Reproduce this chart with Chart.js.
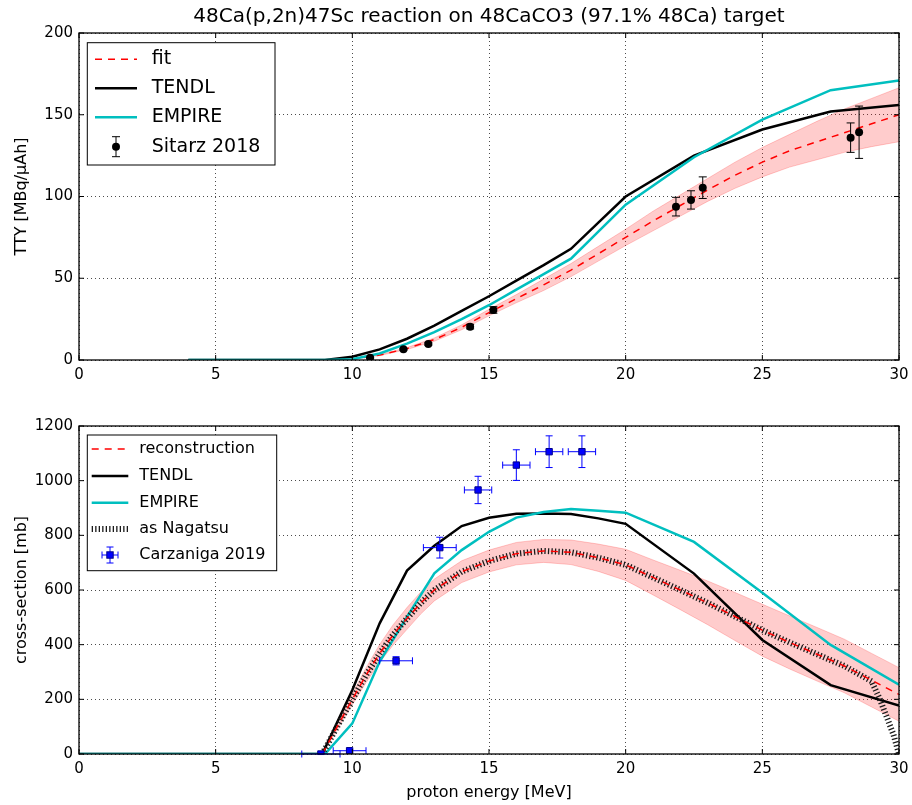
<!DOCTYPE html>
<html>
<head>
<meta charset="utf-8">
<script src="https://cdn.jsdelivr.net/npm/chart.js@4.4.0/dist/chart.umd.min.js"></script>
<style>
  body { margin: 0; background: #fff; }
  canvas { position: absolute; left: 0; }
  #top { top: 0; }
  #bottom { top: 400px; }
</style>
</head>
<body>
<canvas id="top" width="912" height="400"></canvas>
<canvas id="bottom" width="912" height="405"></canvas>
<script>
const FONT = "'DejaVu Sans', sans-serif";

/* ================= DATA: top panel (thick target yield) ================= */
const energyTicks = [0, 5, 10, 15, 20, 25, 30];
const ttyTicks = [0, 50, 100, 150, 200];

const modelE = [4, 5, 6, 7, 8, 9, 10, 11, 12, 13, 14, 15, 16, 17, 18, 19, 20, 22.5, 25, 27.5, 30];
const tendlTTY = [0, 0, 0, 0, 0, 0, 2, 6.5, 13, 21, 30, 39, 48.5, 58, 68, 84, 100, 125, 141, 152, 156];
const empireTTY = [0, 0, 0, 0, 0, 0, 0.5, 4, 10, 17, 25, 33.5, 43, 52.5, 62, 78.5, 95, 124, 147, 165, 171];

const fitE = [9, 10, 11, 12, 13, 14, 15, 16, 17, 18, 19, 20, 21, 22, 23, 24, 25, 26, 27, 28, 29, 30];
const fitTTY = [0, 0.5, 3, 7, 12.5, 20, 29, 37.5, 46, 55, 65, 75, 85, 94.5, 104, 113, 121, 128, 133.5, 139, 144.5, 150];
const fitTTYhi = [0, 0.6, 3.3, 7.6, 13.5, 21.5, 31, 40, 49.5, 59, 69.5, 80, 91, 101, 111, 121, 130, 138, 146, 153.5, 160, 166.5];
const fitTTYlo = [0, 0.4, 2.7, 6.4, 11.5, 18.5, 27, 35, 42.5, 51, 60.5, 70, 79, 88, 97, 105, 112, 118, 122.5, 127, 130.5, 133.5];

const sitarzE = [10.65, 11.87, 12.78, 14.31, 15.16, 21.84, 22.39, 22.82, 28.23, 28.54];
const sitarzTTY = [1.4, 6.5, 9.8, 20.4, 30.6, 93.8, 97.9, 105.4, 136, 139.3];
const sitarzErr = [0.3, 0.5, 0.7, 1.4, 2, 5.7, 5.6, 6.6, 9, 16];

/* ================= DATA: bottom panel (cross-section) ================= */
const xsTicks = [0, 200, 400, 600, 800, 1000, 1200];

const tendlXsE = [0, 8.9, 10, 11, 12, 13, 14, 15, 16, 17, 18, 19, 20, 22.5, 25, 27.5, 30];
const tendlXs = [0, 0, 234, 478, 671, 762, 834, 864, 879, 880, 878, 862, 842, 660, 417, 252, 177];
const empireXsE = [0, 9, 10, 11, 12, 13, 14, 15, 16, 17, 18, 19, 20, 22.5, 25, 27.5, 30];
const empireXs = [0, 0, 112, 338, 502, 661, 746, 813, 865, 885, 896, 890, 883, 776, 590, 399, 254];

const reconE = [8.9, 9.5, 10, 10.5, 11, 11.5, 12, 12.5, 13, 14, 15, 16, 17, 18, 19, 20, 21, 22, 23, 24, 25, 26, 27, 28, 29, 30];
const reconXs = [0, 110, 200, 288, 368, 437, 496, 552, 600, 667, 706, 733, 743, 738, 718, 692, 646, 600, 553, 503, 453, 408, 365, 322, 270, 218];
const reconHi = [0, 122, 220, 315, 401, 474, 536, 592, 640, 707, 746, 774, 785, 783, 768, 749, 710, 672, 633, 591, 548, 505, 463, 420, 368, 316];
const reconLo = [0, 98, 180, 261, 335, 400, 456, 512, 560, 627, 666, 692, 701, 693, 668, 635, 582, 528, 473, 415, 358, 311, 267, 224, 172, 120];

const nagatsuE = [8.9, 9.5, 10, 10.5, 11, 11.5, 12, 12.5, 13, 14, 15, 16, 17, 18, 19, 20, 21, 22, 23, 24, 25, 26, 27, 28, 29, 29.3, 29.55, 29.8, 30];
const nagatsuXs = [0, 110, 200, 288, 368, 437, 496, 552, 600, 667, 706, 733, 743, 738, 718, 692, 646, 600, 553, 503, 453, 408, 365, 322, 266, 200, 136, 70, 0];

const carzE = [8.85, 9.9, 11.6, 13.2, 14.6, 16.0, 17.2, 18.4];
const carzXs = [0, 12, 341, 755, 966, 1057, 1106, 1106];
const carzErrE = [0.7, 0.6, 0.6, 0.6, 0.5, 0.5, 0.5, 0.5];
const carzErrXs = [2, 5, 15, 38, 50, 56, 58, 58];

/* ================= helpers ================= */
function pts(xs, ys){
  return xs.map((x, i) => ({x: x, y: ys[i]}));
}

const RED = 'red';
const BAND = 'rgba(255,0,0,0.2)';
const CYAN = '#00bfbf';
const RED_DASH = [7, 6];

function lineSet(data, color, width, order, extra){
  return Object.assign({
    data: data, showLine: true, borderColor: color, backgroundColor: color,
    borderWidth: width, pointRadius: 0, fill: false, tension: 0, order: order
  }, extra || {});
}

function xScale(height, withTitle){
  return {
    type: 'linear', min: 0, max: 30,
    afterBuildTicks: s => { s.ticks = energyTicks.map(v => ({value: v})); },
    afterFit: s => { s.height = height; s.paddingLeft = 0; s.paddingRight = 0; },
    ticks: {color: '#000', font: {family: FONT, size: 15}, padding: 6, maxRotation: 0, callback: v => String(v)},
    grid: {color: 'rgba(0,0,0,0.7)', lineWidth: 1, drawTicks: false},
    border: {display: false, dash: [1, 3]},
    title: withTitle
      ? {display: true, text: 'proton energy [MeV]', color: '#000', font: {family: FONT, size: 16}, padding: {top: 0, bottom: 3}}
      : {display: false}
  };
}

function yScale(max, ticks, label){
  return {
    type: 'linear', min: 0, max: max,
    afterBuildTicks: s => { s.ticks = ticks.map(v => ({value: v})); },
    afterFit: s => { s.width = 79; s.paddingTop = 0; s.paddingBottom = 0; },
    ticks: {color: '#000', font: {family: FONT, size: 15}, padding: 6, callback: v => String(v)},
    grid: {color: 'rgba(0,0,0,0.7)', lineWidth: 1, drawTicks: false},
    border: {display: false, dash: [1, 3]},
    title: {display: true, text: label, color: '#000', font: {family: FONT, size: 16}, padding: {top: 12, bottom: 0}}
  };
}

/* frame + inward ticks on all four sides */
const framePlugin = {
  id: 'frame',
  afterDatasetsDraw(chart){
    const {ctx, chartArea: a, scales: {x, y}} = chart;
    ctx.save();
    ctx.strokeStyle = '#000';
    ctx.lineWidth = 1.3;
    ctx.strokeRect(a.left, a.top, a.right - a.left, a.bottom - a.top);
    ctx.lineWidth = 1;
    ctx.beginPath();
    x.ticks.forEach(t => {
      const px = x.getPixelForValue(t.value);
      ctx.moveTo(px, a.bottom); ctx.lineTo(px, a.bottom - 5);
      ctx.moveTo(px, a.top); ctx.lineTo(px, a.top + 5);
    });
    y.ticks.forEach(t => {
      const py = y.getPixelForValue(t.value);
      ctx.moveTo(a.left, py); ctx.lineTo(a.left + 5, py);
      ctx.moveTo(a.right, py); ctx.lineTo(a.right - 5, py);
    });
    ctx.stroke();
    ctx.restore();
  }
};

/* error bars, drawn just before the marker dataset */
function errPlugin(index, xs, ys, ex, ey, color, cap){
  return {
    id: 'errbars',
    beforeDatasetDraw(chart, args){
      if (args.index !== index) return;
      const {ctx, scales: {x, y}} = chart;
      ctx.save();
      ctx.strokeStyle = color;
      ctx.lineWidth = 1;
      ctx.beginPath();
      xs.forEach((e, i) => {
        const px = x.getPixelForValue(e), py = y.getPixelForValue(ys[i]);
        if (ey){
          const y0 = y.getPixelForValue(ys[i] - ey[i]), y1 = y.getPixelForValue(ys[i] + ey[i]);
          ctx.moveTo(px, y0); ctx.lineTo(px, y1);
          ctx.moveTo(px - cap, y0); ctx.lineTo(px + cap, y0);
          ctx.moveTo(px - cap, y1); ctx.lineTo(px + cap, y1);
        }
        if (ex){
          const x0 = x.getPixelForValue(e - ex[i]), x1 = x.getPixelForValue(e + ex[i]);
          ctx.moveTo(x0, py); ctx.lineTo(x1, py);
          ctx.moveTo(x0, py - cap); ctx.lineTo(x0, py + cap);
          ctx.moveTo(x1, py - cap); ctx.lineTo(x1, py + cap);
        }
      });
      ctx.stroke();
      ctx.restore();
    }
  };
}

/* boxed legend in the upper-left corner */
function legendPlugin(cfg){
  return {
    id: 'boxLegend',
    afterDraw(chart){
      const {ctx, chartArea: a} = chart;
      ctx.save();
      ctx.fillStyle = '#fff';
      ctx.strokeStyle = '#000';
      ctx.lineWidth = 1;
      const bx = a.left + cfg.box[0], by = a.top + cfg.box[1];
      ctx.fillRect(bx, by, cfg.box[2], cfg.box[3]);
      ctx.strokeRect(bx, by, cfg.box[2], cfg.box[3]);
      const h0 = a.left + cfg.handle[0], h1 = a.left + cfg.handle[1], hc = (h0 + h1) / 2;
      cfg.items.forEach((it, i) => {
        const yy = a.top + cfg.rows[i];
        ctx.save();
        if (it.kind === 'line' || it.kind === 'dash' || it.kind === 'dots'){
          ctx.strokeStyle = it.color;
          ctx.lineWidth = it.width;
          if (it.dash) ctx.setLineDash(it.dash);
          ctx.beginPath(); ctx.moveTo(h0, yy); ctx.lineTo(h1, yy); ctx.stroke();
        } else if (it.kind === 'errpt'){
          ctx.strokeStyle = '#000'; ctx.lineWidth = 1;
          ctx.beginPath();
          ctx.moveTo(hc, yy - 10); ctx.lineTo(hc, yy + 10);
          ctx.moveTo(hc - 4, yy - 10); ctx.lineTo(hc + 4, yy - 10);
          ctx.moveTo(hc - 4, yy + 10); ctx.lineTo(hc + 4, yy + 10);
          ctx.stroke();
          ctx.fillStyle = '#000';
          ctx.beginPath(); ctx.arc(hc, yy, 4, 0, Math.PI * 2); ctx.fill();
        } else if (it.kind === 'errsq'){
          const c = a.left + cfg.marker;
          ctx.strokeStyle = 'blue'; ctx.lineWidth = 1;
          ctx.beginPath();
          ctx.moveTo(c - 8, yy); ctx.lineTo(c + 8, yy);
          ctx.moveTo(c, yy - 8); ctx.lineTo(c, yy + 8);
          ctx.moveTo(c - 8, yy - 3.5); ctx.lineTo(c - 8, yy + 3.5);
          ctx.moveTo(c + 8, yy - 3.5); ctx.lineTo(c + 8, yy + 3.5);
          ctx.moveTo(c - 3.5, yy - 8); ctx.lineTo(c + 3.5, yy - 8);
          ctx.moveTo(c - 3.5, yy + 8); ctx.lineTo(c + 3.5, yy + 8);
          ctx.stroke();
          ctx.fillStyle = 'blue'; ctx.strokeStyle = '#00008b';
          ctx.fillRect(c - 3.2, yy - 3.2, 6.4, 6.4);
          ctx.strokeRect(c - 3.2, yy - 3.2, 6.4, 6.4);
        }
        ctx.restore();
        ctx.fillStyle = '#000';
        ctx.font = cfg.font + 'px ' + FONT;
        ctx.textAlign = 'left';
        ctx.textBaseline = 'middle';
        ctx.fillText(it.label, a.left + cfg.text, yy);
      });
      ctx.restore();
    }
  };
}

const titlePlugin = {
  id: 'panelTitle',
  afterDraw(chart){
    const {ctx, chartArea: a} = chart;
    ctx.save();
    ctx.fillStyle = '#000';
    ctx.font = '20px ' + FONT;
    ctx.textAlign = 'center';
    ctx.textBaseline = 'middle';
    ctx.fillText('48Ca(p,2n)47Sc reaction on 48CaCO3 (97.1% 48Ca) target', (a.left + a.right) / 2, 17);
    ctx.restore();
  }
};

const common = {
  responsive: false,
  animation: false,
  devicePixelRatio: 1,
  events: [],
  plugins: {legend: {display: false}, tooltip: {enabled: false}}
};

/* ================= TOP CHART ================= */
new Chart(document.getElementById('top'), {
  type: 'scatter',
  data: {
    datasets: [
      lineSet(pts(fitE, fitTTYhi), BAND, 1, 10, {fill: '+1', backgroundColor: BAND}),
      lineSet(pts(fitE, fitTTYlo), BAND, 1, 10),
      lineSet(pts(fitE, fitTTY), RED, 1.5, 8, {borderDash: RED_DASH}),
      lineSet(pts(modelE, tendlTTY), '#000', 2.5, 7),
      lineSet(pts(modelE, empireTTY), CYAN, 2.5, 6),
      {data: pts(sitarzE, sitarzTTY), pointRadius: 4, backgroundColor: '#000', borderColor: '#000', borderWidth: 0, order: 1}
    ]
  },
  options: Object.assign({}, common, {
    layout: {padding: {top: 33, right: 13, left: 0, bottom: 0}},
    scales: {x: xScale(40, false), y: yScale(200, ttyTicks, 'TTY [MBq/\u03bcAh]')}
  }),
  plugins: [
    errPlugin(5, sitarzE, sitarzTTY, null, sitarzErr, '#000', 4),
    framePlugin,
    legendPlugin({
      box: [8.3, 9.7, 187.7, 122.3], rows: [26.3, 55.3, 84.3, 113.7],
      handle: [16, 58], text: 72.7, font: 19,
      items: [
        {label: 'fit', kind: 'dash', color: RED, width: 1.5, dash: RED_DASH},
        {label: 'TENDL', kind: 'line', color: '#000', width: 2.5},
        {label: 'EMPIRE', kind: 'line', color: CYAN, width: 2.5},
        {label: 'Sitarz 2018', kind: 'errpt'}
      ]
    }),
    titlePlugin
  ]
});

/* ================= BOTTOM CHART ================= */
new Chart(document.getElementById('bottom'), {
  type: 'scatter',
  data: {
    datasets: [
      lineSet(pts(reconE, reconHi), BAND, 1, 10, {fill: '+1', backgroundColor: BAND}),
      lineSet(pts(reconE, reconLo), BAND, 1, 10),
      lineSet(pts(reconE, reconXs), RED, 1.5, 3, {borderDash: RED_DASH}),
      lineSet(pts(tendlXsE, tendlXs), '#000', 2.5, 6),
      lineSet(pts(empireXsE, empireXs), CYAN, 2.5, 5),
      lineSet(pts(nagatsuE, nagatsuXs), '#1a1a1a', 6, 4, {borderDash: [1.3, 2.2]}),
      {data: pts(carzE, carzXs), pointStyle: 'rect', pointRadius: 4.5, backgroundColor: 'blue', borderColor: '#00008b', borderWidth: 1, order: 1}
    ]
  },
  options: Object.assign({}, common, {
    layout: {padding: {top: 26, right: 13, left: 0, bottom: 0}},
    scales: {x: xScale(51, true), y: yScale(1200, xsTicks, 'cross-section [mb]')}
  }),
  plugins: [
    errPlugin(6, carzE, carzXs, carzErrE, carzErrXs, 'blue', 3.5),
    framePlugin,
    legendPlugin({
      box: [8.3, 9, 189.4, 135.7], rows: [23, 50, 76.7, 103, 129],
      handle: [12.7, 49.3], text: 60.3, font: 16, marker: 31,
      items: [
        {label: 'reconstruction', kind: 'dash', color: RED, width: 1.5, dash: RED_DASH},
        {label: 'TENDL', kind: 'line', color: '#000', width: 2.5},
        {label: 'EMPIRE', kind: 'line', color: CYAN, width: 2.5},
        {label: 'as Nagatsu', kind: 'dots', color: '#1a1a1a', width: 6, dash: [1.3, 2.2]},
        {label: 'Carzaniga 2019', kind: 'errsq'}
      ]
    })
  ]
});
</script>
</body>
</html>
